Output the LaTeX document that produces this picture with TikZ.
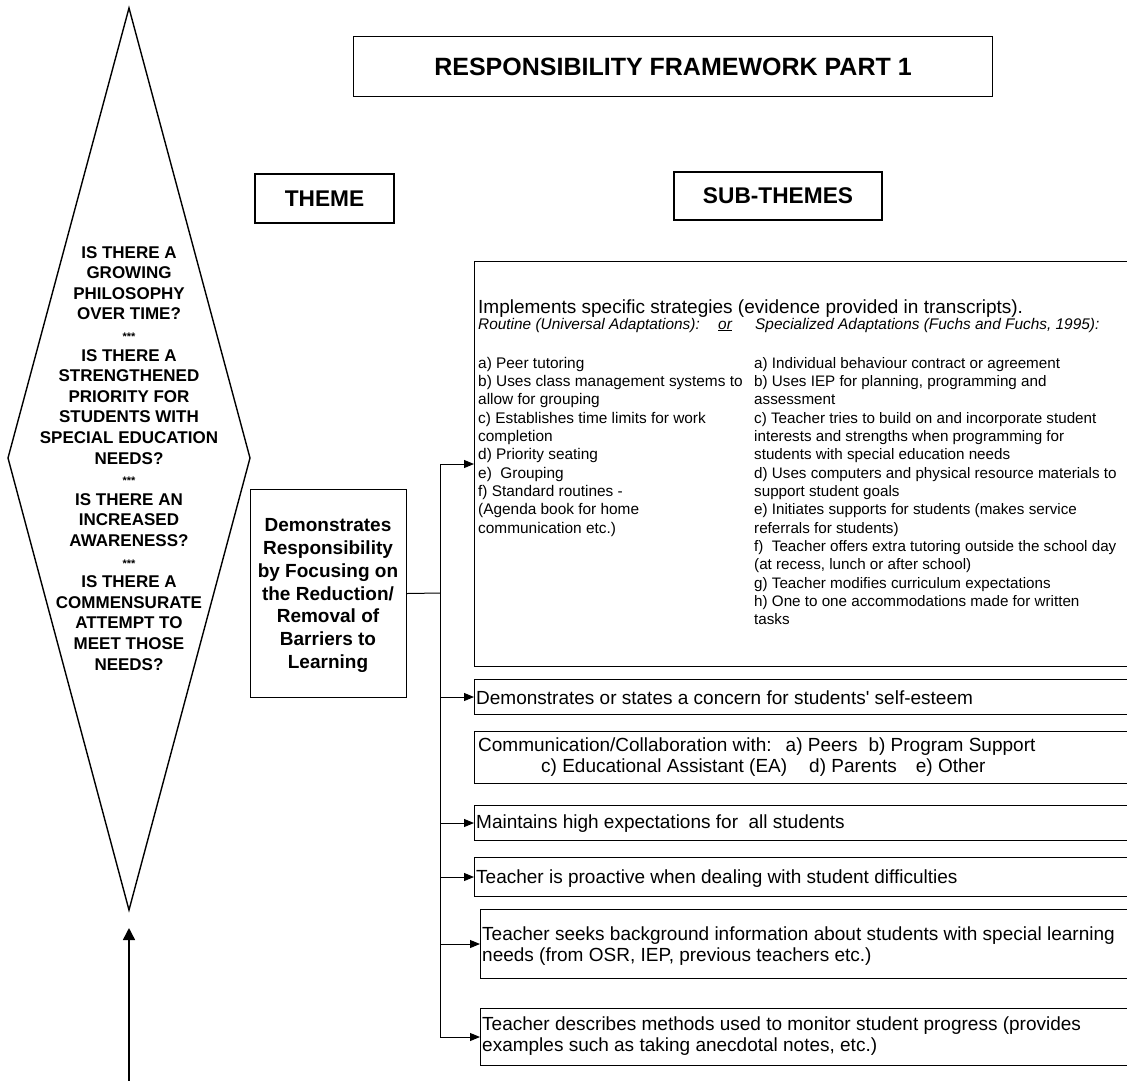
\documentclass[tikz,border=0pt]{standalone}
\usepackage{fontspec}
\setmainfont{Liberation Sans}
\usetikzlibrary{arrows.meta}
\newcommand{\fsz}[2]{\fontsize{#1}{#2}\selectfont}

\begin{document}
\begin{tikzpicture}[x=1pt,y=-1pt,
  rbox/.style={draw=black, line width=1pt, anchor=north west, inner sep=0pt},
  headbox/.style={rbox, line width=2pt, font=\bfseries\fsz{22.7}{26}},
  txt/.style={anchor=base west, inner sep=0pt},
  link/.style={line width=1pt},
  arr/.style={-{Triangle[length=10pt,width=8pt]}, line width=1pt},
  bigarr/.style={-{Triangle[length=12pt,width=12pt]}, line width=1.5pt},
  outline/.style={line width=1.4pt, line join=miter}
]
\fill[white] (0,0) rectangle (1127,1080);
\useasboundingbox (0,0) rectangle (1127,1080);

% headings
\node[rbox, minimum width=639pt, minimum height=60pt, font=\bfseries\fsz{25}{30}] (title) at (353,36) {RESPONSIBILITY FRAMEWORK PART 1};
\node[headbox, minimum width=139pt, minimum height=49pt] (themehead) at (254,173) {THEME};
\node[headbox, minimum width=208pt, minimum height=48pt] (subhead) at (673,171) {SUB-THEMES};

% diamond
\coordinate (dtop) at (129,8);
\coordinate (dright) at (250,458);
\coordinate (dbot) at (129,910);
\coordinate (dleft) at (8,458);
\draw[outline] (dtop) -- (dright) -- (dbot) -- (dleft) -- cycle;
\node[anchor=base, inner sep=0pt] (questions) at (129,258) {\parbox[t]{240pt}{\centering\bfseries\fsz{17}{20.6}%
IS THERE A\\GROWING\\PHILOSOPHY\\OVER TIME?\\{\fsz{11}{20.6}***}\\%
IS THERE A\\STRENGTHENED\\PRIORITY FOR\\STUDENTS WITH\\SPECIAL EDUCATION\\NEEDS?\\{\fsz{11}{20.6}***}\\%
IS THERE AN\\INCREASED\\AWARENESS?\\{\fsz{11}{20.6}***}\\%
IS THERE A\\COMMENSURATE\\ATTEMPT TO\\MEET THOSE\\NEEDS?}};
\coordinate (arrowfoot) at (129,1090);
\coordinate (arrowtip) at (129,928);
\draw[bigarr] (arrowfoot) -- (arrowtip);

% theme box
\node[rbox, minimum width=156pt, minimum height=208pt] (theme) at (250,489) {};
\node[anchor=base, inner sep=0pt] (themetext) at (328,531.7) {\parbox[t]{156pt}{\centering\bfseries\fsz{19}{22.8}%
Demonstrates\\Responsibility\\by Focusing on\\the Reduction/\\Removal of\\Barriers to\\Learning}};

% sub-theme boxes
\node[rbox, minimum width=666pt, minimum height=405pt] (big) at (474,261) {};
\node[rbox, minimum width=666pt, minimum height=35pt] (b2) at (474,679) {};
\node[rbox, minimum width=666pt, minimum height=52pt] (b3) at (474,731) {};
\node[rbox, minimum width=666pt, minimum height=35pt] (b4) at (474,805) {};
\node[rbox, minimum width=666pt, minimum height=39pt] (b5) at (474,857) {};
\node[rbox, minimum width=660pt, minimum height=69pt] (b6) at (480,909) {};
\node[rbox, minimum width=660pt, minimum height=57pt] (b7) at (480,1008) {};

% big box text
\node[txt, font=\fsz{19}{22}] (implements) at (478,313) {Implements specific strategies (evidence provided in transcripts).};
\node[txt, font=\itshape\fsz{15.4}{18.35}] (routine) at (478,329) {Routine (Universal Adaptations):};
\node[txt, font=\itshape\fsz{15.4}{18.35}] (ortext) at (718,329) {\underline{or}};
\node[txt, font=\itshape\fsz{15.4}{18.35}] (special) at (755,329) {Specialized Adaptations (Fuchs and Fuchs, 1995):};
\node[txt] (leftcol) at (478,368) {\parbox[t]{300pt}{\raggedright\fsz{15.4}{18.35}%
a) Peer tutoring\\
b) Uses class management systems to\\
allow for grouping\\
c) Establishes time limits for work\\
completion\\
d) Priority seating\\
e)\ \ Grouping\\
f) Standard routines -\\
(Agenda book for home\\
communication etc.)}};
\node[txt] (rightcol) at (754,368) {\parbox[t]{420pt}{\raggedright\fsz{15.2}{18.35}%
a) Individual behaviour contract or agreement\\
b) Uses IEP for planning, programming and\\
assessment\\
c) Teacher tries to build on and incorporate student\\
interests and strengths when programming for\\
students with special education needs\\
d) Uses computers and physical resource materials to\\
support student goals\\
e) Initiates supports for students (makes service\\
referrals for students)\\
f)\ \ Teacher offers extra tutoring outside the school day\\
(at recess, lunch or after school)\\
g) Teacher modifies curriculum expectations\\
h) One to one accommodations made for written\\
tasks}};

% small box texts
\node[txt, font=\fsz{19}{21}] (t2) at (476,704) {Demonstrates or states a concern for students\textquotesingle\ self-esteem};
\node[txt] (t3) at (478,751.6) {\parbox[t]{640pt}{\raggedright\fsz{19}{20.8}%
Communication/Collaboration with:\hspace{14pt}a) Peers\hspace{11pt}b) Program Support\\
\hspace*{63pt}c) Educational Assistant (EA)\hspace{22pt}d) Parents\hspace{19pt}e) Other}};
\node[txt, font=\fsz{19}{21}] (t4) at (476,828.6) {Maintains high expectations for\ \ all students};
\node[txt, font=\fsz{19}{21}] (t5) at (476,883.6) {Teacher is proactive when dealing with student difficulties};
\node[txt] (t6) at (482,940.6) {\parbox[t]{660pt}{\raggedright\fsz{19}{20.5}%
Teacher seeks background information about students with special learning\\
needs (from OSR, IEP, previous teachers etc.)}};
\node[txt] (t7) at (482,1030.6) {\parbox[t]{660pt}{\raggedright\fsz{19}{20.5}%
Teacher describes methods used to monitor student progress (provides\\
examples such as taking anecdotal notes, etc.)}};

% connectors
\coordinate (junction) at (440,593);
\draw[link] (theme.east) -- (junction);
\draw[link] (junction |- big.west) -- (junction |- b7.west);
\foreach \b in {big,b2,b4,b5,b6,b7} {
  \draw[arr] (junction |- \b.west) -- (\b.west);
}
\end{tikzpicture}
\end{document}
